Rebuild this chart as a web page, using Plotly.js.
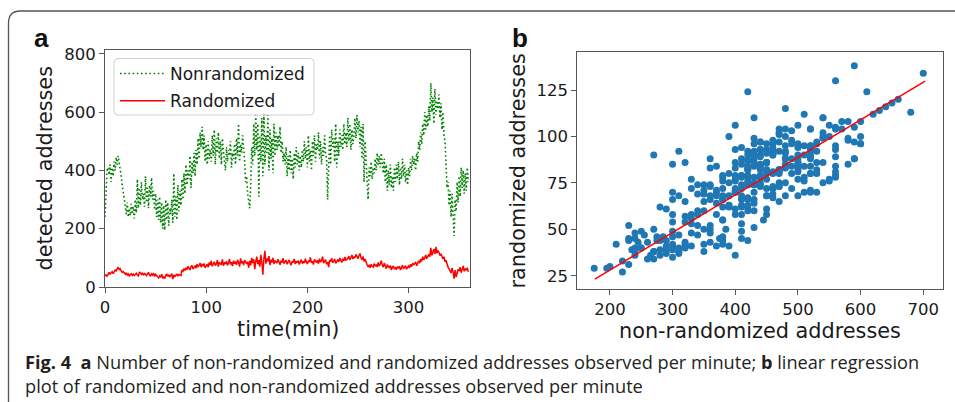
<!DOCTYPE html>
<html><head><meta charset="utf-8">
<script src="https://cdn.plot.ly/plotly-3.0.1.min.js"></script>
<style>html,body{margin:0;padding:0;background:#fff;} #chart{width:955px;height:402px;}</style>
</head><body><div id="chart"></div>
<script>
// time axis (minutes)
const minutes = Array.from({length: 360}, (_, i) => i);

const nonrandomized = [
240,320,400,410,385,420,360,410,380,430,
400,445,420,450,430,410,380,350,330,310,
280,250,290,240,270,245,285,250,275,235,
300,255,370,270,340,280,360,300,320,275,
380,290,340,270,350,310,375,300,330,265,
320,240,300,230,310,220,290,200,280,195,
300,230,290,210,270,250,300,220,390,240,
310,230,350,260,330,280,370,300,390,320,
420,350,400,370,450,340,430,390,460,380,
470,420,510,440,530,480,550,470,520,430,
490,420,500,440,470,430,520,450,540,420,
510,460,530,440,500,420,510,470,440,400,
480,430,470,450,500,410,460,440,490,420,
510,450,560,430,490,460,520,480,430,360,
380,320,300,270,350,480,420,560,450,590,
470,560,310,520,430,580,380,600,420,520,
460,590,400,540,440,510,390,560,450,530,
470,520,480,550,460,500,430,460,420,480,
380,450,400,470,390,440,370,460,410,480,
420,460,400,450,410,470,430,500,440,480,
410,520,430,470,400,500,450,520,430,490,
470,530,440,500,420,480,450,520,460,440,
300,450,520,420,540,480,510,430,560,410,
500,450,540,480,520,470,560,490,530,480,
580,500,560,470,540,490,520,580,510,590,
530,570,480,550,440,560,360,500,420,380,
300,410,380,430,370,410,390,440,400,460,
420,450,410,460,430,390,440,360,420,330,
400,350,420,340,380,330,410,360,420,370,
430,350,410,370,440,380,420,360,400,350,
410,380,440,400,450,420,440,400,460,430,
500,470,530,490,560,520,600,540,590,550,
620,570,700,600,650,560,680,590,640,610,
660,580,630,540,600,520,500,420,340,360,
280,330,240,320,230,175,300,260,360,290,
380,310,410,340,400,320,390,330,410,360
];

const randomized = [
38,42,36,45,50,44,48,53,46,51,
58,55,62,68,60,63,55,50,53,47,
44,49,41,45,38,43,46,40,44,39,
42,47,41,38,52,45,43,49,40,46,
44,39,47,50,42,37,45,41,48,36,
43,40,35,31,38,33,44,30,36,29,
39,45,37,42,34,40,46,27,41,36,
40,44,38,43,41,39,58,54,63,57,
66,60,71,64,58,69,74,62,67,72,
65,78,70,74,82,68,77,73,80,66,
72,79,68,84,75,90,71,80,86,74,
78,92,70,85,81,76,95,73,84,79,
88,74,82,96,77,85,72,90,80,87,
76,93,84,70,98,81,88,75,92,83,
79,86,66,90,74,100,82,95,61,88,
104,78,92,70,110,85,42,96,124,80,
98,88,106,75,93,84,100,79,91,86,
82,95,88,76,90,84,99,80,87,92,
78,86,93,81,75,89,84,96,79,88,
83,91,77,86,94,80,88,82,97,85,
79,90,86,102,83,88,77,95,89,84,
92,80,97,86,90,104,82,89,94,78,
85,68,92,87,99,83,90,96,81,88,
94,86,100,91,84,97,89,103,92,95,
98,106,93,101,110,96,104,99,112,105,
97,108,115,100,93,105,88,96,82,76,
70,74,66,78,71,68,80,73,76,69,
84,72,78,90,75,68,82,74,63,77,
70,65,74,58,68,72,62,66,60,70,
64,71,58,68,75,62,67,73,61,69,
72,66,78,70,82,75,79,86,73,84,
90,82,96,88,104,93,100,110,97,106,
112,104,134,108,118,130,113,138,116,124,
120,108,114,102,96,104,86,92,74,68,
62,56,48,65,52,29,58,34,50,61,
55,68,49,60,72,54,63,58,66,52
];

// fitted regression line endpoints
const regressionX = [176, 703];
const regressionY = [23.2, 129.8];

const ticksTime = [0, 100, 200, 300];
const ticksDetected = [0, 200, 400, 600, 800];
const ticksNonRand = [200, 300, 400, 500, 600, 700];
const ticksRand = [25, 50, 75, 100, 125];

const W = 955, H = 402;
const X = px => px / W;
const Y = py => 1 - py / H;

const tickFont = {family: 'DejaVu Sans', size: 16.5, color: '#1a1a1a'};
const titleFont = {family: 'DejaVu Sans', size: 20.8, color: '#1a1a1a'};
const axisBase = {
  showline: true, mirror: true, linecolor: '#555', linewidth: 1,
  ticks: 'outside', ticklen: 5, tickcolor: '#555', tickwidth: 1,
  showgrid: false, zeroline: false, tickfont: tickFont, fixedrange: true
};

const traces = [
  {x: minutes, y: nonrandomized, type: 'scatter', mode: 'lines', name: 'Nonrandomized',
   line: {color: '#008000', width: 1.6, dash: '1.6px,2.6px'}, xaxis: 'x', yaxis: 'y', legendgroup: 'g1'},
  {x: minutes, y: randomized, type: 'scatter', mode: 'lines', name: 'Randomized',
   line: {color: '#ff0000', width: 1.5}, xaxis: 'x', yaxis: 'y', legendgroup: 'g2'},
  {x: nonrandomized, y: randomized, type: 'scatter', mode: 'markers', showlegend: false,
   marker: {color: '#1f77b4', size: 7}, xaxis: 'x2', yaxis: 'y2'},
  {x: regressionX, y: regressionY, type: 'scatter', mode: 'lines', showlegend: false,
   line: {color: '#ff0000', width: 1.5}, xaxis: 'x2', yaxis: 'y2'}
];

const r = 12;
const borderPath = `M ${X(8.5)},${Y(420)} L ${X(8.5)},${Y(11+r)} Q ${X(8.5)},${Y(11)} ${X(8.5+r)},${Y(11)} L ${X(970)},${Y(11)}`;
const lx0 = 114, lx1 = 314, ly0 = 58.5, ly1 = 115, lr = 4;
const legendPath = `M ${X(lx0+lr)},${Y(ly0)} L ${X(lx1-lr)},${Y(ly0)} Q ${X(lx1)},${Y(ly0)} ${X(lx1)},${Y(ly0+lr)} L ${X(lx1)},${Y(ly1-lr)} Q ${X(lx1)},${Y(ly1)} ${X(lx1-lr)},${Y(ly1)} L ${X(lx0+lr)},${Y(ly1)} Q ${X(lx0)},${Y(ly1)} ${X(lx0)},${Y(ly1-lr)} L ${X(lx0)},${Y(ly0+lr)} Q ${X(lx0)},${Y(ly0)} ${X(lx0+lr)},${Y(ly0)} Z`;

const capFont = {family: 'Open Sans, Lato, sans-serif', size: 18.2, color: '#231f20'};
const nb = '\u00a0';

const layout = {
  width: W, height: H,
  margin: {l: 0, r: 0, t: 0, b: 0, pad: 0},
  paper_bgcolor: '#fff', plot_bgcolor: '#fff',
  showlegend: true,
  hovermode: false,
  xaxis: Object.assign({}, axisBase, {domain: [X(105), X(470)], range: [0, 360.7], tickvals: ticksTime, anchor: 'y'}),
  yaxis: Object.assign({}, axisBase, {domain: [Y(287), Y(50)], range: [0, 813], tickvals: ticksDetected, anchor: 'x'}),
  xaxis2: Object.assign({}, axisBase, {domain: [X(577.3), X(942.7)], range: [148, 731], tickvals: ticksNonRand, anchor: 'y2'}),
  yaxis2: Object.assign({}, axisBase, {domain: [Y(289.3), Y(52.3)], range: [17.7, 145.3], tickvals: ticksRand, anchor: 'x2'}),
  legend: {x: X(115), y: Y(56), xanchor: 'left', yanchor: 'top', bgcolor: 'rgba(0,0,0,0)', borderwidth: 0,
           font: {family: 'DejaVu Sans', size: 17, color: '#1a1a1a'}, traceorder: 'grouped', tracegroupgap: 2, itemwidth: 45},
  shapes: [
    {type: 'path', xref: 'paper', yref: 'paper', path: borderPath, line: {color: '#555', width: 1.3}, layer: 'below'},
    {type: 'path', xref: 'paper', yref: 'paper', path: legendPath, line: {color: '#d0d0d0', width: 1}, fillcolor: 'rgba(255,255,255,0.8)', layer: 'above'}
  ],
  annotations: [
    {text: '<b>a</b>', x: X(41.5), y: Y(38), xref: 'paper', yref: 'paper', showarrow: false, xanchor: 'center', yanchor: 'middle',
     font: {family: 'Liberation Sans', size: 26, color: '#111'}},
    {text: '<b>b</b>', x: X(519.5), y: Y(37.5), xref: 'paper', yref: 'paper', showarrow: false, xanchor: 'center', yanchor: 'middle',
     font: {family: 'Liberation Sans', size: 26, color: '#111'}},
    {text: 'detected addresses', textangle: -90, x: X(44), y: Y(168.5), xref: 'paper', yref: 'paper', showarrow: false,
     xanchor: 'center', yanchor: 'middle', font: titleFont},
    {text: 'time(min)', x: X(287.5), y: Y(329), xref: 'paper', yref: 'paper', showarrow: false,
     xanchor: 'center', yanchor: 'middle', font: titleFont},
    {text: 'randomized addresses', textangle: -90, x: X(517.5), y: Y(171), xref: 'paper', yref: 'paper', showarrow: false,
     xanchor: 'center', yanchor: 'middle', font: titleFont},
    {text: 'non-randomized addresses', x: X(760), y: Y(331), xref: 'paper', yref: 'paper', showarrow: false,
     xanchor: 'center', yanchor: 'middle', font: titleFont},
    {text: '<b>Fig. 4</b>' + nb + nb + '<b>a</b> Number of non-randomized and randomized addresses observed per minute; <b>b</b> linear regression',
     x: X(23), y: Y(361.5), xref: 'paper', yref: 'paper', showarrow: false, xanchor: 'left', yanchor: 'middle', font: capFont},
    {text: 'plot of randomized and non-randomized addresses observed per minute',
     x: X(23), y: Y(385.5), xref: 'paper', yref: 'paper', showarrow: false, xanchor: 'left', yanchor: 'middle', font: capFont}
  ]
};

Plotly.newPlot('chart', traces, layout, {staticPlot: true, displayModeBar: false});
</script>
</body></html>
